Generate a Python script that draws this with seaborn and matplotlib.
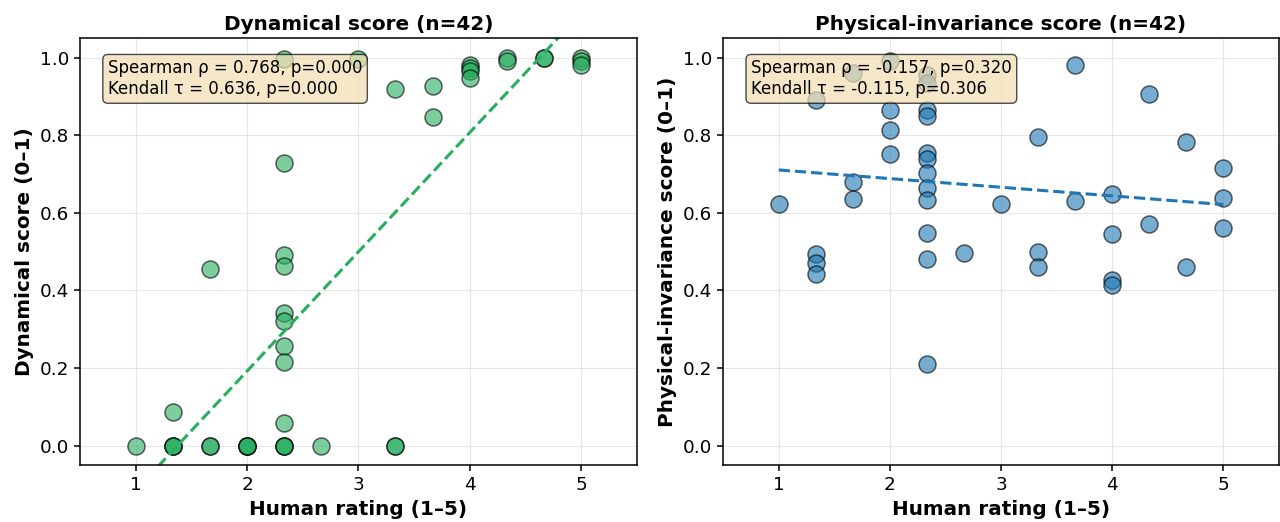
import numpy as np
import pandas as pd
import matplotlib
matplotlib.use("Agg")
import matplotlib.pyplot as plt
import seaborn as sns

# Human ratings (mean of 3 raters), shared by both panels
human = [1.0,
         1.333, 1.333, 1.333, 1.333,
         1.667, 1.667, 1.667,
         2.0, 2.0, 2.0, 2.0,
         2.333, 2.333, 2.333, 2.333, 2.333, 2.333, 2.333, 2.333, 2.333, 2.333, 2.333, 2.333,
         2.667,
         3.0,
         3.333, 3.333, 3.333,
         3.667, 3.667,
         4.0, 4.0, 4.0, 4.0,
         4.333, 4.333,
         4.667, 4.667,
         5.0, 5.0, 5.0]

dynamical = [0.0,
             0.088, 0.0, 0.0, 0.0,
             0.455, 0.0, 0.0,
             0.0, 0.0, 0.0, 0.0,
             0.995, 0.727, 0.492, 0.464, 0.342, 0.320, 0.258, 0.215, 0.058, 0.0, 0.0, 0.0,
             0.0,
             0.995,
             0.918, 0.0, 0.0,
             0.926, 0.846,
             0.982, 0.972, 0.966, 0.948,
             1.0, 0.99,
             1.0, 1.0,
             1.0, 0.99, 0.98]

physical = [0.622,
            0.890, 0.495, 0.470, 0.443,
            0.960, 0.680, 0.635,
            0.992, 0.865, 0.812, 0.752,
            0.956, 0.935, 0.866, 0.850, 0.755, 0.738, 0.703, 0.664, 0.634, 0.548, 0.482, 0.210,
            0.497,
            0.622,
            0.796, 0.499, 0.460,
            0.982, 0.631,
            0.649, 0.546, 0.428, 0.415,
            0.905, 0.570,
            0.782, 0.460,
            0.716, 0.637, 0.561]

titles = ["Dynamical score (n=42)", "Physical-invariance score (n=42)"]
ylabels = ["Dynamical score (0–1)", "Physical-invariance score (0–1)"]
stats_text = ["Spearman ρ = 0.768, p=0.000\nKendall τ = 0.636, p=0.000",
              "Spearman ρ = -0.157, p=0.320\nKendall τ = -0.115, p=0.306"]
colors = ["#27ae60", "#1f77b4"]

df = pd.DataFrame({"human": human, "dynamical": dynamical, "physical": physical})

fig = plt.figure(figsize=(12.8, 5.22), dpi=100)
axes = [fig.add_axes([0.0625, 0.109, 0.435, 0.818]),
        fig.add_axes([0.565, 0.109, 0.434, 0.818])]

for ax, col, title, ylab, txt, c in zip(axes, ["dynamical", "physical"], titles, ylabels, stats_text, colors):
    sns.scatterplot(data=df, x="human", y=col, ax=ax, color=c, alpha=0.6, s=150,
                    edgecolor="black", linewidth=1.1, zorder=2)
    sns.regplot(data=df, x="human", y=col, ax=ax, scatter=False, ci=None,
                color=c, line_kws=dict(linestyle="--", linewidth=2.2), truncate=True)
    ax.set_xlim(0.5, 5.5)
    ax.set_ylim(-0.05, 1.05)
    ax.set_xticks([1, 2, 3, 4, 5])
    ax.set_yticks([0.0, 0.2, 0.4, 0.6, 0.8, 1.0])
    ax.grid(True, alpha=0.3)
    ax.set_axisbelow(True)
    for s in ax.spines.values():
        s.set_linewidth(1.1)
    ax.set_title(title, fontsize=14.4, fontweight="bold")
    ax.set_xlabel("Human rating (1–5)", fontsize=14.4, fontweight="bold")
    ax.set_ylabel(ylab, fontsize=14.4, fontweight="bold")
    ax.tick_params(labelsize=13.2, width=1.1, length=4.5)
    ax.text(0.05, 0.95, txt, transform=ax.transAxes, fontsize=12, va="top",
            bbox=dict(boxstyle="round", facecolor="wheat", alpha=0.7), zorder=5)

fig.savefig("out.png", dpi=100)
